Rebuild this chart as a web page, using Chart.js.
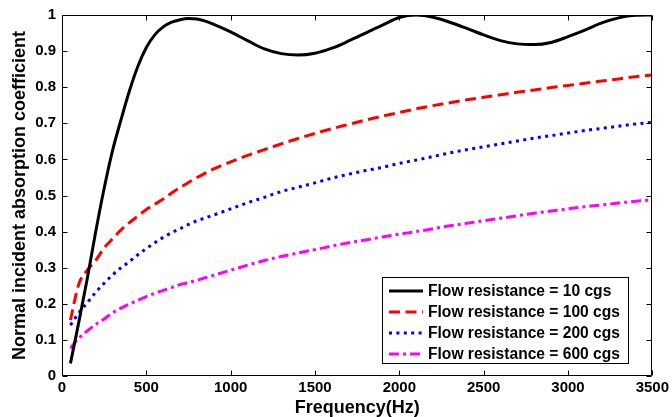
<!DOCTYPE html>
<html><head><meta charset="utf-8">
<script src="https://cdn.jsdelivr.net/npm/chart.js@4.4.1/dist/chart.umd.min.js"></script>
<style>html,body{margin:0;padding:0;background:#fff}#wrap{width:672px;height:417px}</style>
</head><body><div id="wrap"><canvas id="c" width="672" height="417"></canvas></div>
<script>
const freqs = [50,100,150,200,250,300,350,400,450,500,550,600,650,700,750,800,850,900,1000,1100,1200,1300,1400,1500,1600,1700,1800,1900,2000,2100,2200,2300,2400,2500,2600,2700,2800,2900,3000,3100,3200,3300,3400,3500];
const alpha10 = [0.035,0.15,0.27,0.40,0.52,0.625,0.71,0.79,0.858,0.91,0.945,0.967,0.98,0.987,0.99,0.989,0.983,0.974,0.953,0.929,0.906,0.893,0.889,0.894,0.908,0.928,0.95,0.972,0.993,1.0,0.994,0.98,0.963,0.945,0.929,0.92,0.918,0.924,0.94,0.958,0.978,0.992,0.999,1.0];
const alpha100 = [0.155,0.255,0.293,0.32,0.355,0.38,0.405,0.425,0.443,0.461,0.476,0.49,0.507,0.522,0.536,0.55,0.562,0.574,0.593,0.611,0.627,0.643,0.658,0.672,0.685,0.697,0.709,0.72,0.73,0.74,0.749,0.757,0.765,0.772,0.779,0.786,0.792,0.799,0.805,0.811,0.817,0.823,0.829,0.834];
const alpha200 = [0.141,0.175,0.203,0.232,0.257,0.28,0.30,0.317,0.336,0.353,0.369,0.384,0.397,0.408,0.42,0.43,0.438,0.446,0.463,0.48,0.495,0.511,0.523,0.535,0.548,0.559,0.569,0.578,0.589,0.598,0.608,0.618,0.627,0.635,0.643,0.651,0.659,0.666,0.673,0.68,0.686,0.692,0.698,0.703];
const alpha600 = [0.077,0.105,0.125,0.143,0.158,0.175,0.188,0.199,0.21,0.22,0.229,0.237,0.245,0.253,0.259,0.265,0.272,0.279,0.293,0.307,0.32,0.331,0.341,0.35,0.36,0.369,0.377,0.385,0.393,0.4,0.408,0.416,0.423,0.43,0.437,0.444,0.451,0.457,0.463,0.469,0.474,0.479,0.484,0.488];
const seriesLabels = ['Flow resistance = 10 cgs','Flow resistance = 100 cgs','Flow resistance = 200 cgs','Flow resistance = 600 cgs'];
const xTicks = [0,500,1000,1500,2000,2500,3000,3500];
const yTicks = [0,0.1,0.2,0.3,0.4,0.5,0.6,0.7,0.8,0.9,1];

const FONT = "'Liberation Sans', Arial, Helvetica, sans-serif";
const pts = arr => freqs.map((f,i)=>({x:f,y:arr[i]}));

const framePlugin = {
  id:'frame',
  afterDatasetsDraw(chart){
    const {ctx, chartArea:a, scales:{x,y}} = chart;
    ctx.save();
    ctx.strokeStyle = '#000';
    ctx.lineWidth = 1;
    const L = Math.round(a.left)+0.5, R = Math.round(a.right)-0.5, T = Math.round(a.top)+0.5, B = Math.round(a.bottom)-0.5;
    ctx.beginPath();
    ctx.rect(L, T, R-L, B-T);
    ctx.stroke();
    ctx.beginPath();
    xTicks.forEach(v=>{
      const px = Math.round(x.getPixelForValue(v))+0.5;
      ctx.moveTo(px,B); ctx.lineTo(px,B-5);
      ctx.moveTo(px,T); ctx.lineTo(px,T+5);
    });
    yTicks.forEach(v=>{
      const py = Math.round(y.getPixelForValue(v))+0.5;
      ctx.moveTo(L,py); ctx.lineTo(L+5,py);
      ctx.moveTo(R,py); ctx.lineTo(R-5,py);
    });
    ctx.stroke();
    // legend
    const bx0 = Math.round(a.right) - 270, by0 = Math.round(a.bottom) - 99;
    const bw = 246, bh = 86;
    ctx.fillStyle = '#fff';
    ctx.fillRect(bx0, by0, bw, bh);
    ctx.strokeRect(bx0+0.5, by0+0.5, bw, bh);
    ctx.font = "bold 15.6px " + FONT;
    ctx.textBaseline = 'middle';
    ctx.textAlign = 'left';
    chart.data.datasets.forEach((ds,i)=>{
      const cy = by0 + 14 + i*21;
      ctx.save();
      ctx.strokeStyle = ds.borderColor;
      ctx.lineWidth = ds.borderWidth;
      ctx.setLineDash(ds.borderDash || []);
      ctx.beginPath();
      ctx.moveTo(bx0+7, cy); ctx.lineTo(bx0+41, cy);
      ctx.stroke();
      ctx.restore();
      ctx.fillStyle = '#000';
      ctx.fillText(ds.label, bx0+46, cy+1);
    });
    ctx.restore();
  }
};

new Chart(document.getElementById('c'), {
  type:'line',
  data:{
    datasets:[
      {label:seriesLabels[0], data:pts(alpha10), borderColor:'#000000', borderWidth:3, borderDash:[]},
      {label:seriesLabels[1], data:pts(alpha100), borderColor:'#ff0000', borderWidth:3, borderDash:[11,5.5]},
      {label:seriesLabels[2], data:pts(alpha200), borderColor:'#0000ff', borderWidth:3, borderDash:[3,4.4]},
      {label:seriesLabels[3], data:pts(alpha600), borderColor:'#ff00ff', borderWidth:3, borderDash:[10,4,3,4]}
    ]
  },
  options:{
    responsive:false,
    animation:false,
    devicePixelRatio:1,
    elements:{point:{radius:0}, line:{borderCapStyle:'butt', cubicInterpolationMode:'monotone'}},
    layout:{padding:{left:8, top:15, right:19, bottom:0}},
    plugins:{legend:{display:false}, tooltip:{enabled:false}},
    scales:{
      x:{
        type:'linear', min:0, max:3500,
        afterBuildTicks:s=>{s.ticks = xTicks.map(v=>({value:v}));},
        afterFit:s=>{s.height = 41;},
        grid:{display:false, drawTicks:false},
        border:{display:false},
        ticks:{padding:3, color:'#000', font:{family:FONT, size:15, weight:'bold'}, maxRotation:0, callback:v=>String(v)},
        title:{display:true, text:'Frequency(Hz)', color:'#000', padding:{top:0,bottom:0}, font:{family:FONT, size:18, weight:'bold', lineHeight:1}}
      },
      y:{
        type:'linear', min:0, max:1,
        afterBuildTicks:s=>{s.ticks = yTicks.map(v=>({value:v}));},
        afterFit:s=>{s.width = 54;},
        grid:{display:false, drawTicks:false},
        border:{display:false},
        ticks:{padding:6, color:'#000', font:{family:FONT, size:15, weight:'bold'}, callback:v=>String(v)},
        title:{display:true, text:'Normal incident absorption coefficient', color:'#000', padding:{top:1,bottom:0}, font:{family:FONT, size:18, weight:'bold'}}
      }
    }
  },
  plugins:[framePlugin]
});
</script>
</body></html>
